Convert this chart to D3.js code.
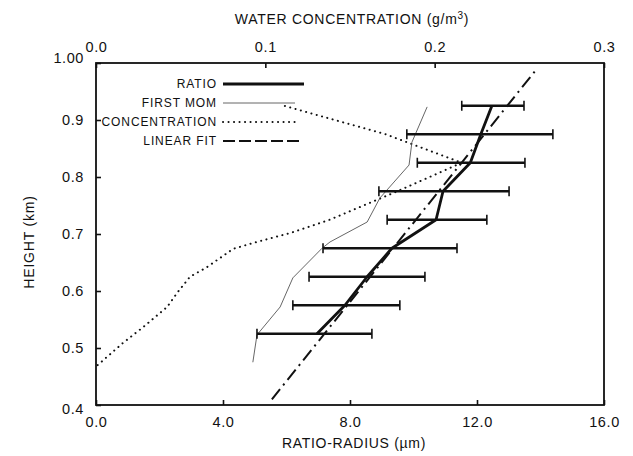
<!DOCTYPE html>
<html>
<head>
<meta charset="utf-8">
<script src="https://cdn.jsdelivr.net/npm/d3@7"></script>
<style>
  html, body { margin: 0; padding: 0; background: #fff; }
  svg { display: block; }
  text { font-family: "Liberation Sans", Arial, Helvetica, sans-serif; fill: #111; }
</style>
</head>
<body>
<svg id="chart" width="633" height="456"></svg>
<script>
// Heights (km) of the ratio-radius profile levels
const ratioHeights = [0.525, 0.575, 0.625, 0.675, 0.725, 0.775, 0.825, 0.875, 0.925];
// Ratio radius (µm) and its error range at each level
const ratioValues = [6.96, 7.84, 8.54, 9.32, 10.71, 10.93, 11.79, 12.12, 12.47];
const ratioLow    = [5.07, 6.20, 6.71, 7.15, 9.17, 8.91, 10.12, 9.79, 11.52];
const ratioHigh   = [8.69, 9.57, 10.36, 11.37, 12.31, 13.01, 13.51, 14.39, 13.48];

// First moment radius profile (µm vs km)
const firstMomHeights = [0.475, 0.523, 0.572, 0.623, 0.675, 0.686, 0.721, 0.763, 0.821, 0.861, 0.923];
const firstMomValues  = [4.94, 5.07, 5.80, 6.20, 7.12, 7.37, 8.54, 8.94, 9.86, 9.95, 10.43];

// Water concentration profile (g/m3 vs km), plotted on the top axis
const concHeights = [0.470, 0.509, 0.537, 0.572, 0.597, 0.625, 0.642, 0.674, 0.686, 0.702, 0.725, 0.775, 0.825, 0.875, 0.925];
const concValues  = [0.001, 0.016, 0.028, 0.042, 0.048, 0.0555, 0.0656, 0.081, 0.095, 0.115, 0.138, 0.178, 0.216, 0.171, 0.111];

// Linear fit of radius against height (end points of the fitted line)
const fitHeights = [0.41, 0.99];
const fitValues  = [5.54, 13.89];

// Axis ticks
const bottomTicks = [0, 4, 8, 12, 16];
const topTicks = [0, 0.1, 0.2, 0.3];
const leftTicks = [0.4, 0.5, 0.6, 0.7, 0.8, 0.9, 1.0];

// Legend entries
const legendLabels = ["RATIO", "FIRST MOM", "CONCENTRATION", "LINEAR FIT"];

const svg = d3.select("#chart");
const plotLeft = 96, plotRight = 604, plotTop = 63, plotBottom = 405;

const x = d3.scaleLinear().domain([0, 16]).range([plotLeft, plotRight]);
const xTop = d3.scaleLinear().domain([0, 0.3]).range([plotLeft, plotRight]);
const y = d3.scaleLinear().domain([0.4, 1.0]).range([plotBottom, plotTop]);

const fmt1 = d3.format(".1f");

// Axes with inward ticks
const gB = svg.append("g").attr("transform", `translate(0,${plotBottom})`)
  .call(d3.axisBottom(x).tickValues(bottomTicks).tickSize(-5).tickPadding(12).tickFormat(fmt1));
const gT = svg.append("g").attr("transform", `translate(0,${plotTop})`)
  .call(d3.axisTop(xTop).tickValues(topTicks).tickSize(-5).tickPadding(11).tickFormat(fmt1));
const gL = svg.append("g").attr("transform", `translate(${plotLeft},0)`)
  .call(d3.axisLeft(y).tickValues(leftTicks).tickSize(-5).tickPadding(12)
    .tickFormat(d => d === 1 ? "1.00" : fmt1(d)));

[gB, gT, gL].forEach(g => {
  g.select(".domain").remove();
  g.selectAll(".tick line").attr("stroke", "#111").attr("stroke-width", 1.6);
  g.selectAll(".tick text").attr("font-size", 14.5).attr("fill", "#111")
    .attr("font-family", "'Liberation Sans', Arial, sans-serif").style("letter-spacing", "0.6px");
});
// Corner labels nudged apart
gL.selectAll(".tick text").attr("y", d => d === 1 ? -5 : (d === 0.4 ? 4 : 0));

// Frame
svg.append("rect").attr("x", plotLeft).attr("y", plotTop)
  .attr("width", plotRight - plotLeft).attr("height", plotBottom - plotTop)
  .attr("fill", "none").attr("stroke", "#111").attr("stroke-width", 1.8);

// Axis titles
const topTitle = svg.append("text").attr("x", 352).attr("y", 24).attr("text-anchor", "middle")
  .attr("font-size", 14).style("letter-spacing", "0.7px");
topTitle.append("tspan").text("WATER CONCENTRATION (g/m");
topTitle.append("tspan").attr("font-size", 10).attr("dy", -5).text("3");
topTitle.append("tspan").attr("dy", 5).text(")");

svg.append("text").attr("x", 354).attr("y", 448).attr("text-anchor", "middle")
  .attr("font-size", 14).style("letter-spacing", "0.7px")
  .text("RATIO-RADIUS (µm)");

svg.append("text").attr("transform", "translate(34,242) rotate(-90)")
  .attr("text-anchor", "middle").attr("font-size", 14).style("letter-spacing", "0.8px")
  .text("HEIGHT (km)");

const plot = svg.append("g");

// Water concentration (dotted)
plot.append("path")
  .datum(d3.range(concValues.length))
  .attr("fill", "none").attr("stroke", "#111").attr("stroke-width", 2)
  .attr("stroke-linecap", "round").attr("stroke-dasharray", "0.1,5.4")
  .attr("d", d3.line().x(i => xTop(concValues[i])).y(i => y(concHeights[i])));

// First moment (thin grey)
plot.append("path")
  .datum(d3.range(firstMomValues.length))
  .attr("fill", "none").attr("stroke", "#555").attr("stroke-width", 0.9)
  .attr("d", d3.line().x(i => x(firstMomValues[i])).y(i => y(firstMomHeights[i])));

// Linear fit (dash-dot)
plot.append("path")
  .datum(d3.range(fitValues.length))
  .attr("fill", "none").attr("stroke", "#111").attr("stroke-width", 2)
  .attr("stroke-dasharray", "13,5,2,5")
  .attr("d", d3.line().x(i => x(fitValues[i])).y(i => y(fitHeights[i])));

// Error bars
const bars = plot.append("g").selectAll("g").data(d3.range(ratioHeights.length)).join("g");
bars.append("line")
  .attr("x1", i => x(ratioLow[i])).attr("x2", i => x(ratioHigh[i]))
  .attr("y1", i => y(ratioHeights[i])).attr("y2", i => y(ratioHeights[i]))
  .attr("stroke", "#111").attr("stroke-width", 2.6);
bars.append("line")
  .attr("x1", i => x(ratioLow[i])).attr("x2", i => x(ratioLow[i]))
  .attr("y1", i => y(ratioHeights[i]) - 5).attr("y2", i => y(ratioHeights[i]) + 5)
  .attr("stroke", "#111").attr("stroke-width", 1.6);
bars.append("line")
  .attr("x1", i => x(ratioHigh[i])).attr("x2", i => x(ratioHigh[i]))
  .attr("y1", i => y(ratioHeights[i]) - 5).attr("y2", i => y(ratioHeights[i]) + 5)
  .attr("stroke", "#111").attr("stroke-width", 1.6);

// Ratio profile (thick)
plot.append("path")
  .datum(d3.range(ratioValues.length))
  .attr("fill", "none").attr("stroke", "#111").attr("stroke-width", 2.8)
  .attr("stroke-linejoin", "round")
  .attr("d", d3.line().x(i => x(ratioValues[i])).y(i => y(ratioHeights[i])));

// Legend
const legendStyles = [
  { w: 2.8, c: "#111", dash: null },
  { w: 0.9, c: "#555", dash: null },
  { w: 2, c: "#111", dash: "0.1,5.4", cap: "round" },
  { w: 2, c: "#111", dash: "12,4" }
];
const legendY = [84, 103, 122, 141];
const legendEnds = [304, 295, 298, 303];
const lg = svg.append("g").selectAll("g").data(legendLabels).join("g");
lg.append("text").attr("x", 217).attr("y", (d, i) => legendY[i] + 4)
  .attr("text-anchor", "end").attr("font-size", 12).style("letter-spacing", "0.9px")
  .text(d => d);
lg.append("line").attr("x1", 223).attr("x2", (d, i) => legendEnds[i])
  .attr("y1", (d, i) => legendY[i]).attr("y2", (d, i) => legendY[i])
  .attr("stroke", (d, i) => legendStyles[i].c)
  .attr("stroke-width", (d, i) => legendStyles[i].w)
  .attr("stroke-dasharray", (d, i) => legendStyles[i].dash)
  .attr("stroke-linecap", (d, i) => legendStyles[i].cap || "butt");
</script>
</body>
</html>
